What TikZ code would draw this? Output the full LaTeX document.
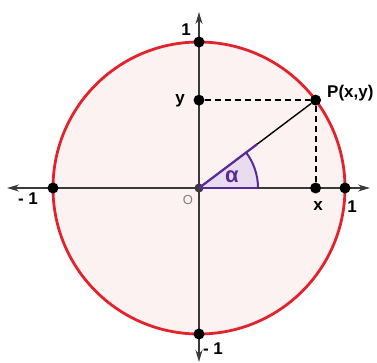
\documentclass[tikz,border=0pt]{standalone}
\usepackage{fontspec}
\setmainfont{Liberation Sans}
\usepackage{tikz}
\usetikzlibrary{arrows.meta, calc}

\definecolor{circred}{HTML}{E3232B}
\definecolor{circfill}{HTML}{FDF2F2}
\definecolor{axisgray}{HTML}{3A3A3A}
\definecolor{anglepurple}{HTML}{5A2A9A}
\definecolor{anglefill}{HTML}{E8DDF0}

\begin{document}
\begin{tikzpicture}[
  x=1pt, y=1pt,
  font=\fontsize{17}{17}\selectfont\bfseries,
  axis/.style={draw=axisgray, line width=1.7pt, -{Stealth[length=12pt, width=7pt]}},
  dot/.style={circle, fill=black, inner sep=0pt, minimum size=11pt},
  proj/.style={draw=black, line width=1.8pt, dash pattern=on 6pt off 4pt},
  lbl/.style={inner sep=1pt}
]
\useasboundingbox (-199,-174) rectangle (178,188);
% unit circle
\draw[circred, line width=2.8pt, fill=circfill] (0,0) circle (146);
% angle sector
\fill[anglefill] (0,0) -- (59,0) arc (0:37:59) -- cycle;
\draw[anglepurple, line width=2pt] (59,0) arc (0:37:59);
% axes
\draw[axis] (-146,0) -- (-192,0);
\draw[axis] (0,0) -- (171,0);
\draw[draw=axisgray, line width=1.7pt] (-146,0) -- (0,0);
\draw[axis] (0,0) -- (0,176);
\draw[axis] (0,0) -- (0,-174);
% points
\coordinate (O) at (0,0);
\coordinate (P) at (37:146);
\node[dot] (ptop)   at (0,146)  {};
\node[dot] (pbot)   at (0,-146) {};
\node[dot] (pleft)  at (-146,0) {};
\node[dot] (pright) at (146,0)  {};
\node[dot] (px) at (P |- O) {};
\node[dot] (py) at (O |- P) {};
\node[dot] (pp) at (P) {};
\node[dot, fill=axisgray, minimum size=9pt] (po) at (O) {};
% radius and projections
\draw[black, line width=1.4pt] (po) -- (pp);
\draw[anglepurple, line width=2.2pt] (O) -- ($(O)!0.5!(pp)$);
\draw[anglepurple, line width=2.2pt] (O) -- (59,0);
\draw[proj] (py) -- (pp);
\draw[proj] (pp) -- (px);
% labels
\node[lbl] (ltop)   at (-13,158)  {1};
\node[lbl] (ly)     at (-19,87)   {y};
\node[lbl] (lleft)  at (-171,-11) {- 1};
\node[lbl, font=\fontsize{13}{13}\selectfont, text=gray] (lo) at (-11,-12) {O};
\node[lbl] (lx)     at (119,-18)  {x};
\node[lbl] (lright) at (153,-19)  {1};
\node[lbl, anchor=west] (lp) at (127,95) {P(x,y)};
\node[lbl] (lbot)   at (14,-161)  {- 1};
\node[lbl, text=anglepurple, font=\fontsize{22}{22}\selectfont\bfseries] (lalpha) at (33,11) {α};
\end{tikzpicture}
\end{document}
